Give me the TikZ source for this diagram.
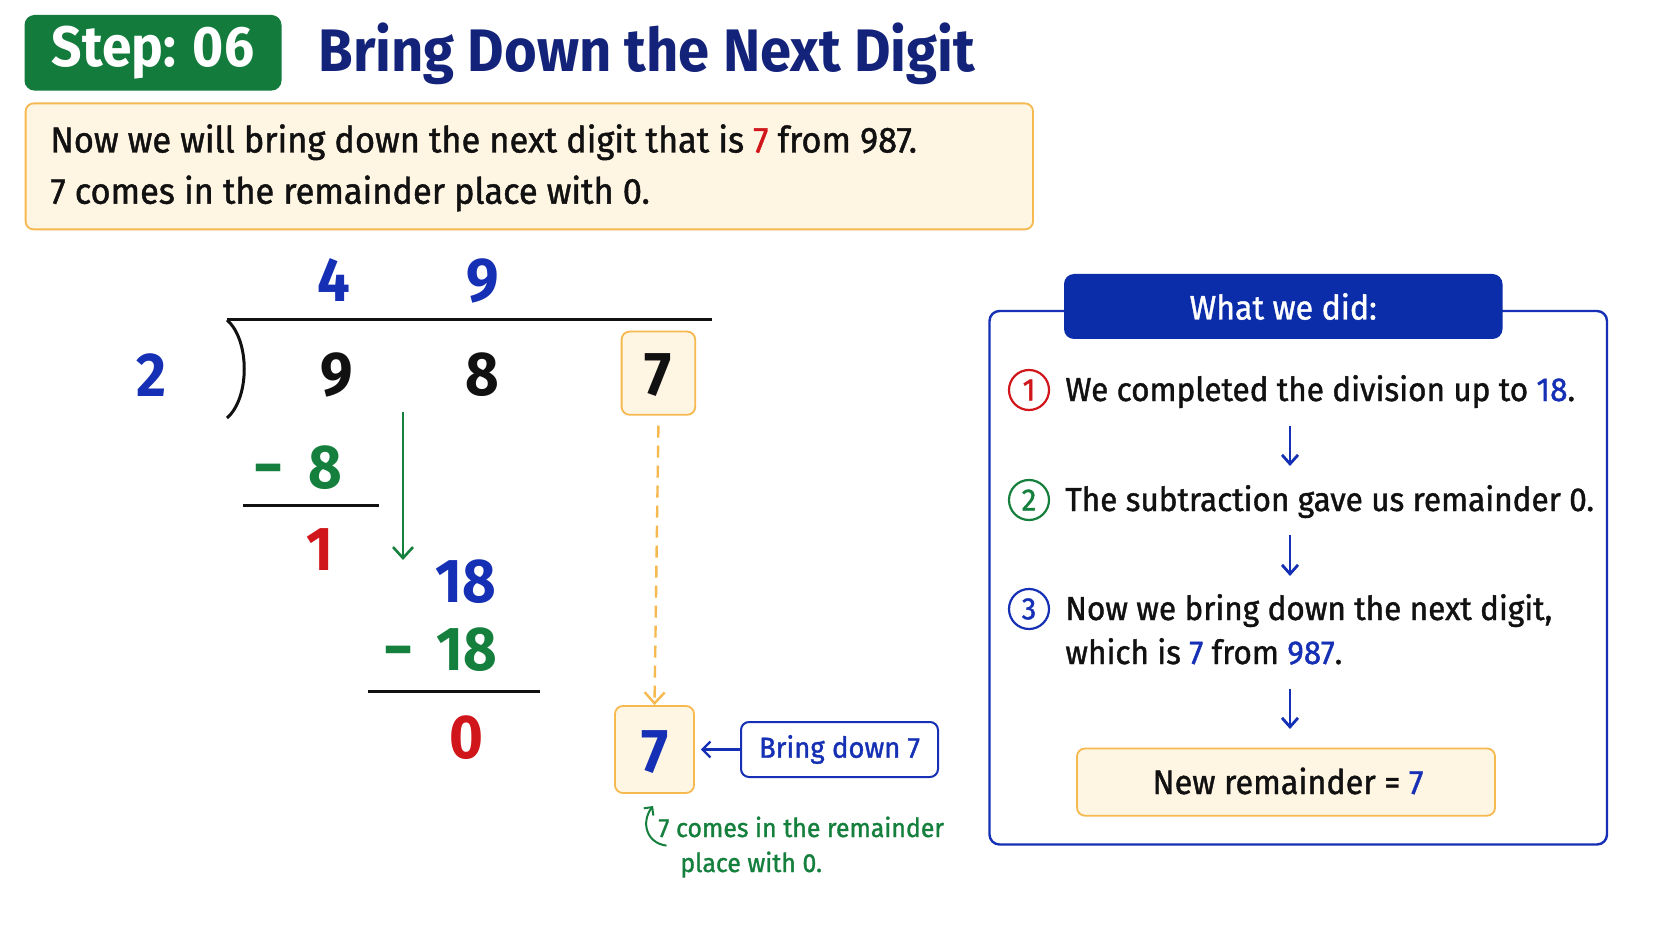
\documentclass[tikz,border=0pt]{standalone}
\usepackage{fontspec}
\setmainfont[FakeStretch=0.935]{Fira Sans}
\newfontfamily\medfont[FakeStretch=0.95,FakeBold=1.2]{Fira Sans}
\usetikzlibrary{arrows.meta}
\definecolor{navy}{HTML}{14237A}
\definecolor{myblue}{HTML}{1530B4}
\definecolor{hdrblue}{HTML}{0B2DAA}
\definecolor{mygreen}{HTML}{15803D}
\definecolor{stepgreen}{HTML}{137B3B}
\definecolor{myred}{HTML}{D0161B}
\definecolor{cream}{HTML}{FFF5E3}
\definecolor{ornge}{HTML}{F5B94F}
\definecolor{ink}{HTML}{111111}
\tikzset{
  creambox/.style={draw=ornge, line width=0.9pt, fill=cream, rounded corners=4pt, inner sep=0pt},
  digit/.style={font=\bfseries\fontsize{31}{31}\selectfont, anchor=base, inner sep=0pt},
  body/.style={font=\medfont\fontsize{18.1}{22}\selectfont, anchor=base west, inner sep=0pt, text=ink},
  panel/.style={font=\medfont\fontsize{16.6}{20}\selectfont, anchor=base west, inner sep=0pt, text=ink},
  note/.style={font=\medfont\fontsize{13.1}{16}\selectfont, anchor=base west, inner sep=0pt, text=mygreen},
  numcirc/.style={circle, draw=#1, text=#1, line width=1.1pt, minimum size=20pt, inner sep=0pt, font=\medfont\fontsize{15.5}{15.5}\selectfont},
  flowarrow/.style={draw=myblue, line width=1.4pt, -{Straight Barb[length=4.5pt,width=8pt,line width=1.4pt]}},
}
\begin{document}
\begin{tikzpicture}[x=0.5pt,y=-0.5pt]
\useasboundingbox[fill=white] (0,0) rectangle (1672,941);

% header
\node[fill=stepgreen, rounded corners=5pt, minimum width=128.5pt, minimum height=37.8pt, text=white, font=\bfseries\fontsize{28.5}{28.5}\selectfont] (step) at (153,52.8) {Step: 06};
\node[anchor=base west, inner sep=0pt, text=navy, font=\bfseries\fontsize{30}{30}\selectfont] (title) at (318,71.5) {Bring Down the Next Digit};

\node[creambox, minimum width=503.7pt, minimum height=63pt] (intro) at (529.3,166.4) {};
\node[body] (l1) at (50,152.5) {Now we will bring down the next digit that is \textcolor{myred}{7} from 987.};
\node[body] (l2) at (50,203.7) {7 comes in the remainder place with 0.};

% division
\node[digit, text=myblue] (q4) at (333.7,301.8) {4};
\node[digit, text=myblue] (q9) at (483,301.8) {9};
\node[digit, text=myblue] (dv) at (151.4,397) {2};
\node[digit, text=ink] (d9) at (337,395) {9};
\node[digit, text=ink] (d8) at (482,395) {8};
\node[creambox, minimum width=36.8pt, minimum height=41.6pt] (top7box) at (658.4,373.2) {};
\node[digit, text=ink] (d7) at (658,395) {7};
\draw[line width=1.5pt, ink] (227,320) -- (712,320);
\draw[line width=1.5pt, ink] (227,320) .. controls (250,340) and (250,398) .. (227,418);

\node[digit, text=mygreen] (m1) at (268.7,488) {−};
\node[digit, text=mygreen] (s8) at (325,488) {8};
\draw[line width=1.5pt, ink] (243,505) -- (378.5,505);
\node[digit, text=myred] (r1) at (320,570) {1};
\coordinate (gA) at (403,411.6);
\coordinate (gB) at (403,560);
\draw[mygreen, line width=1.3pt, -{Straight Barb[length=5.5pt,width=10pt,line width=1.3pt]}] (gA) -- (gB);

\node[digit, text=myblue] (n18) at (466,602) {18};
\node[digit, text=mygreen] (m2) at (399,670) {−};
\node[digit, text=mygreen] (s18) at (467,670) {18};
\draw[line width=1.5pt, ink] (368,691) -- (539.5,691);
\node[digit, text=myred] (r0) at (466,758) {0};

\node[creambox, minimum width=39.5pt, minimum height=43.5pt] (low7box) at (654.5,749.5) {};
\node[digit, text=myblue] (low7) at (655,772) {7};
\draw[ornge, line width=1.2pt, dash pattern=on 6pt off 4pt, -{Straight Barb[length=5.5pt,width=10pt,line width=1.2pt]}] (top7box.south) ++(0,10) -- (low7box.north);

\node[draw=myblue, line width=1pt, fill=white, rounded corners=4pt, minimum width=98.5pt, minimum height=27.5pt, text=myblue, font=\medfont\fontsize{14.5}{14.5}\selectfont] (bring) at (839.5,749.5) {Bring down 7};
\draw[myblue, line width=1.1pt, -{Straight Barb[length=4pt,width=8pt,line width=1.1pt]}] (bring.west) -- ([xshift=3pt]low7box.east);

\node[note] (nt1) at (658,837) {7 comes in the remainder};
\node[note] (nt2) at (680,872) {place with 0.};
\coordinate (cA) at (666.5,845.6);
\coordinate (cB) at (653,806);
\draw[mygreen, line width=1pt, -{Straight Barb[length=3pt,width=6pt,line width=1pt]}] (cA) .. controls (646,843) and (641,822) .. (cB);

% right panel
\node[draw=myblue, line width=1.2pt, rounded corners=5pt, minimum width=308.75pt, minimum height=266.75pt] (panel) at (1298.25,577.75) {};
\node[fill=hdrblue, rounded corners=5pt, minimum width=219.25pt, minimum height=32.5pt, text=white, font=\medfont\fontsize{16.9}{16.9}\selectfont] (hdr) at (1283.25,306.5) {What we did:};

\node[numcirc=myred] (c1) at (1029,390) {1};
\node[panel] (t1) at (1065,401) {We completed the division up to \textcolor{myblue}{18}.};
\node[numcirc=mygreen] (c2) at (1029,500) {2};
\node[panel] (t2) at (1065,511) {The subtraction gave us remainder 0.};
\node[numcirc=myblue] (c3) at (1029,609) {3};
\node[panel] (t3a) at (1065,620) {Now we bring down the next digit,};
\node[panel] (t3b) at (1065,664) {which is \textcolor{myblue}{7} from \textcolor{myblue}{987}.};

\coordinate (a1s) at (1290,426.5); \coordinate (a1e) at (1290,466);
\coordinate (a2s) at (1290,535); \coordinate (a2e) at (1290,576);
\coordinate (a3s) at (1290,689); \coordinate (a3e) at (1290,729);
\draw[flowarrow] (a1s) -- (a1e);
\draw[flowarrow] (a2s) -- (a2e);
\draw[flowarrow] (a3s) -- (a3e);

\node[creambox, minimum width=209pt, minimum height=33.6pt] (newrem) at (1286,782.1) {};
\node[panel, anchor=base, font=\medfont\fontsize{17}{17}\selectfont] (nrtext) at (1288,794) {New remainder = \textcolor{myblue}{7}};
\end{tikzpicture}
\end{document}
